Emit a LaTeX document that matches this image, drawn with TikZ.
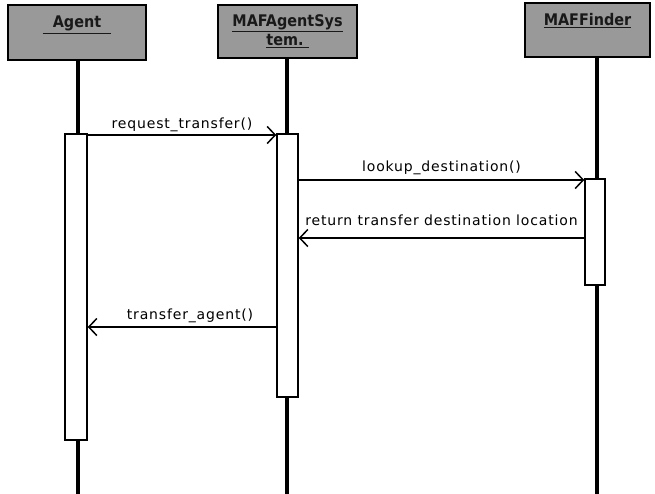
\documentclass[tikz,border=0pt]{standalone}
\usepackage{fontspec}
\setmainfont{DejaVu Sans}
\newfontfamily\hdrfont{DejaVu Sans Condensed}
\usetikzlibrary{arrows.meta}
\begin{document}
\begin{tikzpicture}[x=1pt,y=-1pt,
  header/.style={draw=black, line width=2pt, fill=black!40, inner sep=0pt,
     font=\hdrfont\bfseries\fontsize{16}{18}\selectfont, text=black!90, align=center},
  lifeline/.style={line width=3.2pt, black},
  actbox/.style={draw=black, line width=1.5pt, fill=white, inner sep=0pt},
  msg/.style={line width=1.5pt, -{Straight Barb[length=8pt,width=17pt,line width=1.5pt]}},
  msglabel/.style={font=\fontsize{14}{16}\selectfont\addfontfeatures{LetterSpace=6}, inner sep=1pt}
]
\useasboundingbox (0,0) rectangle (655,494);

% headers
\node[header, minimum width=138pt, minimum height=55pt, text height=12pt, text depth=21pt] (hA) at (77,32.5) {\underline{~~Agent~~}};
\node[header, minimum width=139pt, minimum height=53pt] (hS) at (287.5,31.5) {\underline{MAFAgentSys}\\[1pt]\underline{tem.~}};
\node[header, minimum width=125pt, minimum height=54pt, text height=12pt, text depth=21pt] (hF) at (587.5,30) {\underline{MAFFinder}};

% lifeline ends
\coordinate (eA) at (78,494);
\coordinate (eS) at (287,494);
\coordinate (eF) at (597,494);
\draw[lifeline] (hA.south -| eA) -- (eA);
\draw[lifeline] (hS.south -| eS) -- (eS);
\draw[lifeline] (hF.south -| eF) -- (eF);

% activations
\node[actbox, minimum width=22pt, minimum height=306pt] (aA) at (76,287) {};
\node[actbox, minimum width=21pt, minimum height=263pt] (aS) at (287.5,265.5) {};
\node[actbox, minimum width=20pt, minimum height=106pt] (aF) at (595,232) {};

% messages
\coordinate (y1) at (0,135);
\coordinate (y2) at (0,180);
\coordinate (y3) at (0,238);
\coordinate (y4) at (0,327);
\draw[msg] (aA.east |- y1) -- node[msglabel, above=1pt] {request\_transfer()} (aS.west |- y1);
\draw[msg] (aS.east |- y2) -- node[msglabel, above=3pt] {lookup\_destination()} (aF.west |- y2);
\draw[msg] (aF.west |- y3) -- node[msglabel, above=11pt] {return transfer destination location} (aS.east |- y3);
\draw[msg] (aS.west |- y4) -- node[msglabel, above=2pt, xshift=8pt] {transfer\_agent()} (aA.east |- y4);
\end{tikzpicture}
\end{document}
